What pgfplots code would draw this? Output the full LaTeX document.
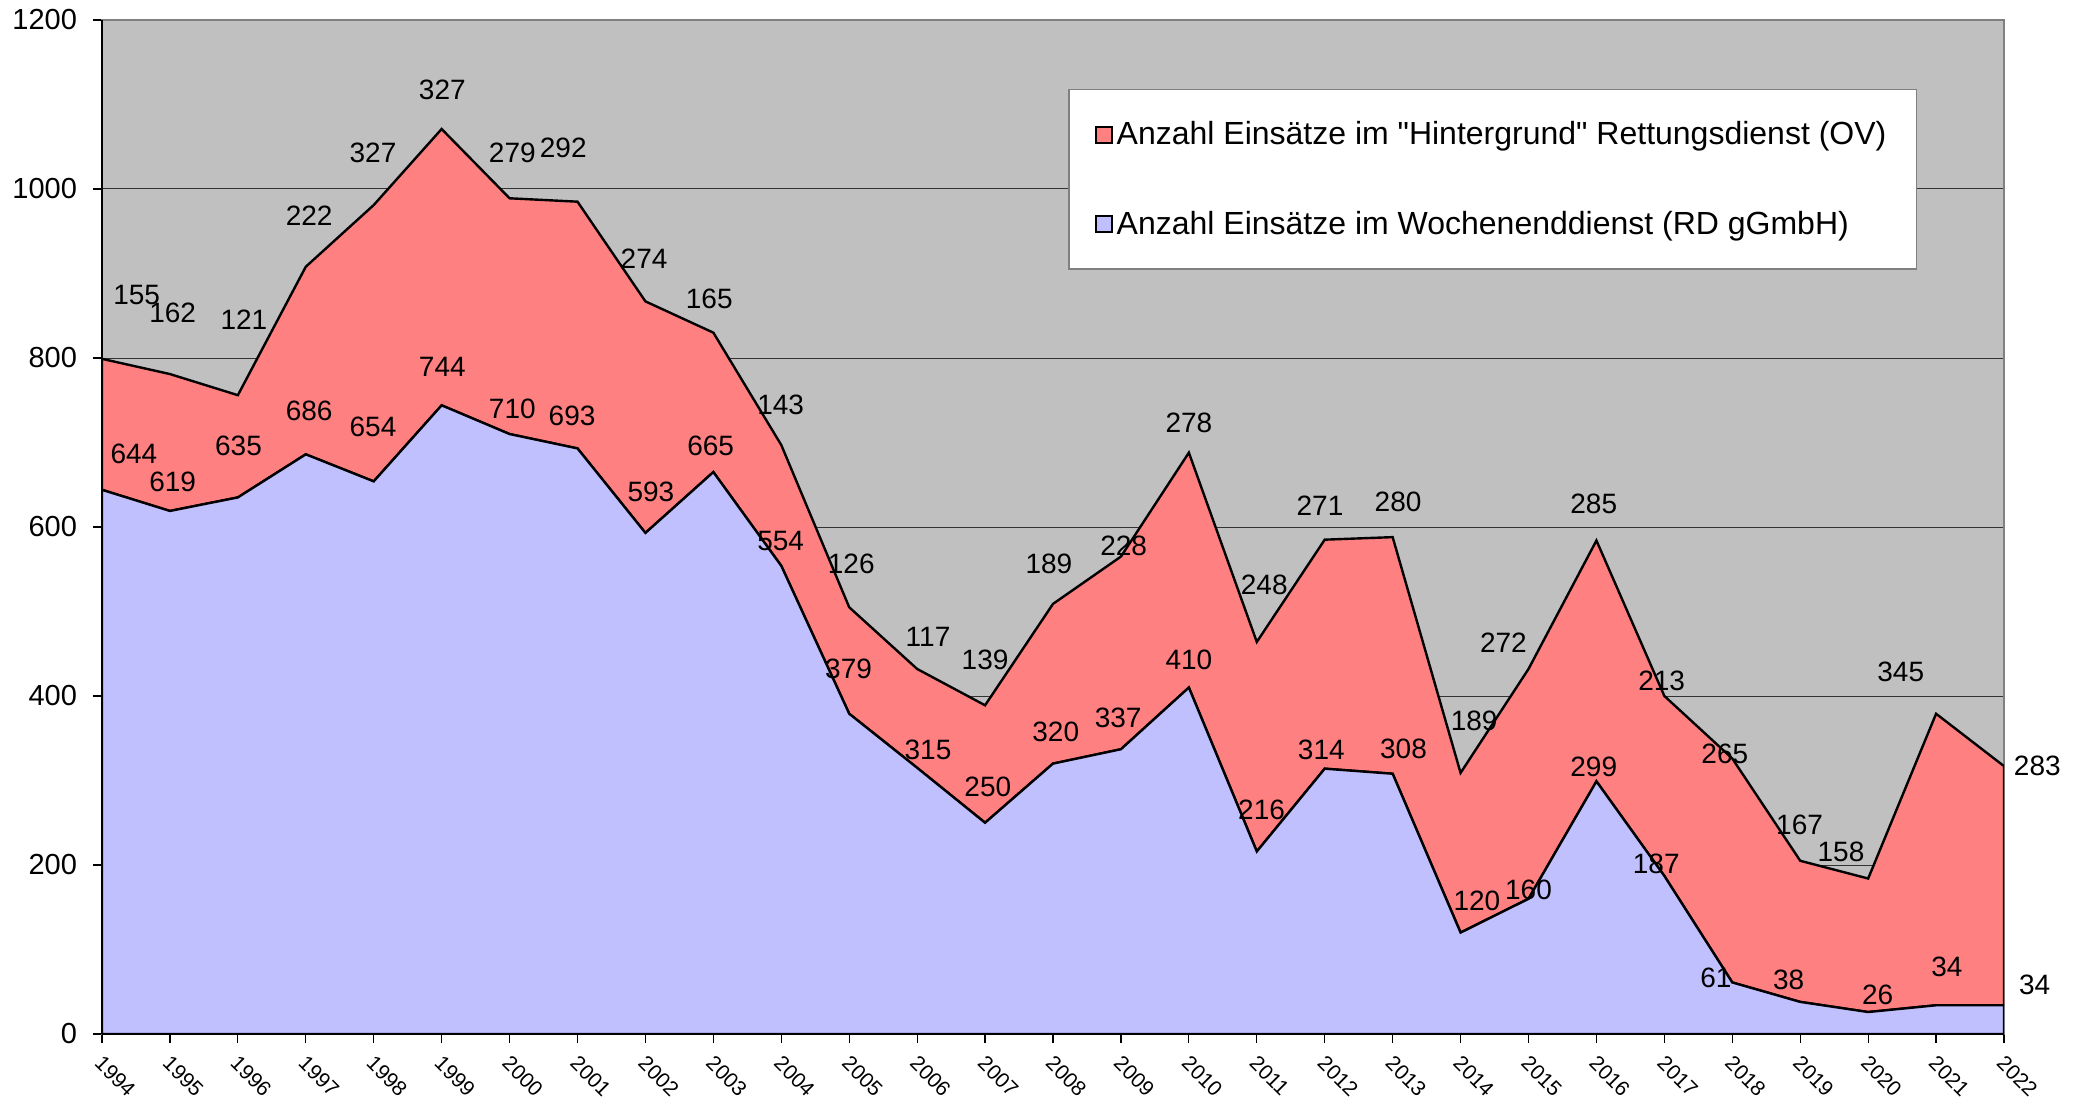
\documentclass[border=0pt]{standalone}
\usepackage{pgfplots}
\pgfplotsset{compat=1.18}
\usepackage{pgfplotstable}
\usepackage{fontspec}
\setmainfont{Liberation Sans}

\definecolor{bg}{HTML}{C0C0C0}
\definecolor{redA}{HTML}{FF8080}
\definecolor{blueA}{HTML}{C0C0FF}

\pgfplotstableread{
x blue red
0 644 155
1 619 162
2 635 121
3 686 222
4 654 327
5 744 327
6 710 279
7 693 292
8 593 274
9 665 165
10 554 143
11 379 126
12 315 117
13 250 139
14 320 189
15 337 228
16 410 278
17 216 248
18 314 271
19 308 280
20 120 189
21 160 272
22 299 285
23 187 213
24 61 265
25 38 167
26 26 158
27 34 345
28 34 283
}\data

\pgfplotstableread{
x y lab
0.51 875 155
1.04 853 162
2.09 845 121
3.05 968 222
3.99 1043 327
5.01 1117 327
6.04 1043 279
6.79 1049 292
7.98 917 274
8.94 870 165
9.99 745 143
11.03 556 126
12.16 470 117
13.00 443 139
13.94 556 189
15.04 578 228
16.00 723 278
17.11 531 248
17.93 625 271
19.08 630 280
20.20 371 189
20.63 463 272
21.96 627 285
22.96 418 213
23.89 331 265
24.99 247 167
25.60 215 158
26.48 429 345
28.49 317 283
}\redlab

\pgfplotstableread{
x y lab
0.47 686 644
1.04 653 619
2.01 696 635
3.05 737 686
3.99 718 654
5.01 790 744
6.04 740 710
6.92 732 693
8.08 641 593
8.96 696 665
9.99 583 554
10.99 432 379
12.16 336 315
13.04 292 250
14.04 358 320
14.96 374 337
16.00 443 410
17.07 265 216
17.95 336 314
19.16 338 308
20.24 157 120
21.00 171 160
21.96 316 299
22.88 201 187
23.76 66 61
24.83 64 38
26.14 46 26
27.16 80 34
28.45 58 34
}\bluelab

\pgfplotsset{
  common/.style={
    scale only axis, width=951pt, height=507pt,
    xmin=0, xmax=28, ymin=0, ymax=1200,
  }
}

\begin{document}
\begin{tikzpicture}
\begin{axis}[
  common,
  name=main,
  stack plots=y,
  axis background/.style={fill=bg},
  axis line style={draw=gray, line width=0.8pt},
  ymajorgrids,
  grid style={draw=black!80, line width=0.5pt},
  ytick={0,200,...,1200},
  xtick={0,...,28},
  xticklabels={1994,1995,1996,1997,1998,1999,2000,2001,2002,2003,2004,2005,2006,2007,2008,2009,2010,2011,2012,2013,2014,2015,2016,2017,2018,2019,2020,2021,2022},
  xtick pos=lower, ytick pos=left,
  tick align=outside,
  major tick length=4.5pt,
  tick style={black, line width=0.6pt},
  yticklabel style={font=\fontsize{14.5}{16}\selectfont, xshift=-4.5pt, /pgf/number format/assume math mode=true, /pgf/number format/1000 sep={}},
  xticklabel style={font=\fontsize{10.5}{12}\selectfont, yshift=-4pt, xshift=1pt, rotate=-45, anchor=north west, inner sep=1pt},
  reverse legend,
  legend cell align=left,
  legend style={at={(0.508,0.932)}, anchor=north west, draw=gray, line width=0.7pt, fill=white,
    font=\fontsize{16}{18}\selectfont, inner xsep=13pt, inner ysep=14pt, row sep=27.5pt,
    nodes={inner sep=2pt}},
  legend image code/.code={\draw[#1, draw=black, line width=0.9pt] (0pt,-4pt) rectangle (8pt,4pt);},
]
\addplot[fill=blueA, draw=black, line width=1.2pt] table[x=x, y=blue] {\data} \closedcycle;
\addlegendentry{Anzahl Einsätze im Wochenenddienst (RD gGmbH)}
\addplot[fill=redA, draw=black, line width=1.2pt] table[x=x, y=red] {\data} \closedcycle;
\addlegendentry{Anzahl Einsätze im \textquotedbl Hintergrund\textquotedbl{} Rettungsdienst (OV)}
\end{axis}
\draw[black, line width=1pt] (main.south west) -- (main.north west);
\begin{axis}[
  common, hide axis, clip=false,
  nodes near coords={\pgfplotspointmeta},
  every node near coord/.style={anchor=center, font=\fontsize{14}{16}\selectfont, text=black},
]
\addplot[draw=none, mark=none, point meta=explicit symbolic] table[x=x, y=y, meta=lab] {\redlab};
\addplot[draw=none, mark=none, point meta=explicit symbolic] table[x=x, y=y, meta=lab] {\bluelab};
\end{axis}
\pgfresetboundingbox
\path[use as bounding box] (-51pt,-32.5pt) rectangle (990pt,517pt);
\end{tikzpicture}
\end{document}
